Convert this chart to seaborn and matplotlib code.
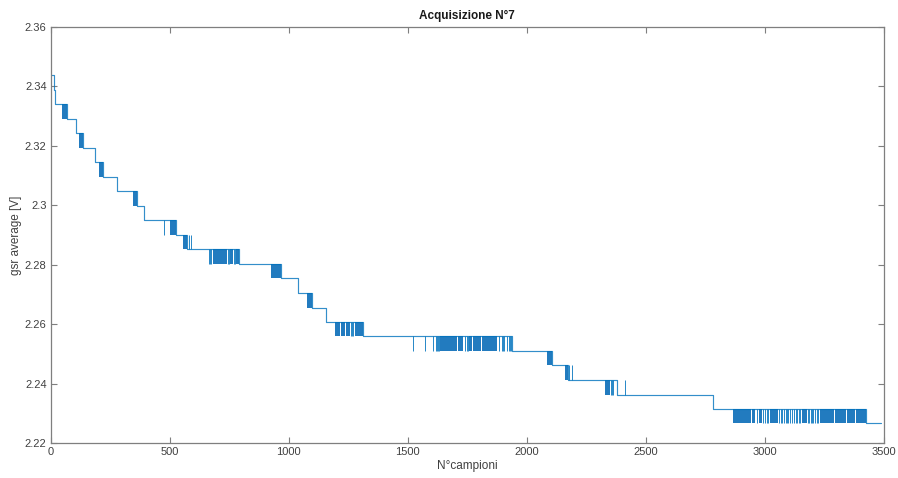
import matplotlib
matplotlib.use('Agg')
import matplotlib.pyplot as plt
import seaborn as sns

# step levels of the quantised gsr signal (sample where each level starts)
step_x = [0, 15, 20, 67, 105, 137, 186, 218, 277, 364, 393, 526, 571, 792,
          966, 1040, 1097, 1155, 1311, 1937, 2105, 2172, 2381, 2784, 3428]
step_v = [2.3438, 2.3389, 2.3340, 2.3291, 2.3242, 2.3193, 2.3145, 2.3096,
          2.3047, 2.2998, 2.2949, 2.2900, 2.2852, 2.2803, 2.2754, 2.2705,
          2.2656, 2.2607, 2.2559, 2.2510, 2.2461, 2.2412, 2.2363, 2.2314,
          2.2266]
last_sample = 3490

# dense flicker blocks between two adjacent levels
band_start = [46, 119, 204, 347, 501, 554, 683, 753, 778, 924, 1076,
              1195, 1220, 1239, 1279, 1636, 1684, 1710, 1759, 1773, 1814,
              1843, 2084, 2161, 2329, 2868, 2948, 2977, 3022, 3155, 3232,
              3294, 3344, 3384]
band_end = [67, 137, 218, 364, 526, 571, 739, 767, 792, 966, 1097,
            1216, 1237, 1258, 1311, 1680, 1706, 1734, 1769, 1810, 1840,
            1874, 2105, 2172, 2352, 2941, 2959, 2987, 3057, 3176, 3290,
            3340, 3380, 3428]
band_lo = [2.3291, 2.3193, 2.3096, 2.2998, 2.2900, 2.2852, 2.2803, 2.2803,
           2.2803, 2.2754, 2.2656, 2.2559, 2.2559, 2.2559, 2.2559, 2.2510,
           2.2510, 2.2510, 2.2510, 2.2510, 2.2510, 2.2510, 2.2461, 2.2412,
           2.2363, 2.2266, 2.2266, 2.2266, 2.2266, 2.2266, 2.2266, 2.2266,
           2.2266, 2.2266]
band_hi = [2.3340, 2.3242, 2.3145, 2.3047, 2.2949, 2.2900, 2.2852, 2.2852,
           2.2852, 2.2803, 2.2705, 2.2607, 2.2607, 2.2607, 2.2607, 2.2559,
           2.2559, 2.2559, 2.2559, 2.2559, 2.2559, 2.2559, 2.2510, 2.2461,
           2.2412, 2.2314, 2.2314, 2.2314, 2.2314, 2.2314, 2.2314, 2.2314,
           2.2314, 2.2314]

# isolated single-sample jumps
spike_x = [476, 582, 588, 666, 670, 675, 744, 748, 771, 775,
           1262, 1266, 1272, 1521, 1573, 1608, 1619, 1624, 1628, 1633,
           1740, 1748, 1755, 1884, 1896, 1900, 1905, 1916, 1924, 1930, 1934,
           2179, 2189, 2356, 2360, 2364, 2413,
           2966, 2994, 3000, 3008, 3014, 3062, 3068, 3075, 3082, 3088, 3092,
           3100, 3108, 3115, 3122, 3130, 3138, 3146, 3150, 3182, 3188, 3194,
           3200, 3204, 3212, 3220, 3226]
spike_lo = ([2.2900] + [2.2852] * 2 + [2.2803] * 7 + [2.2559] * 3 +
            [2.2510] * 18 + [2.2412] * 2 + [2.2363] * 4 + [2.2266] * 27)
spike_hi = ([2.2949] + [2.2900] * 2 + [2.2852] * 7 + [2.2607] * 3 +
            [2.2559] * 18 + [2.2461] * 2 + [2.2412] * 4 + [2.2314] * 27)

x_ticks = [0, 500, 1000, 1500, 2000, 2500, 3000, 3500]
y_ticks = [2.22, 2.24, 2.26, 2.28, 2.3, 2.32, 2.34, 2.36]
y_labels = ['2.22', '2.24', '2.26', '2.28', '2.3', '2.32', '2.34', '2.36']

sns.set_style('white')
plt.rcParams['font.family'] = ['Liberation Sans', 'DejaVu Sans']

line_col = '#0072BD'
band_col = '#0a6db8'

fig, ax = plt.subplots(figsize=(8.98, 4.78), dpi=100)
fig.subplots_adjust(left=0.0565, right=0.984, top=0.9435, bottom=0.0732)

for s, e, lo, hi in zip(band_start, band_end, band_lo, band_hi):
    ax.fill_between([s, e], [lo, lo], [hi, hi], color=band_col, lw=0, alpha=0.9)

ax.vlines(spike_x, spike_lo, spike_hi, color=line_col, lw=0.7, alpha=0.85)

xs = step_x + [last_sample]
ys = step_v + [step_v[-1]]
sns.lineplot(x=xs, y=ys, drawstyle='steps-post', color=line_col, lw=0.85,
             alpha=0.8, ax=ax)

ax.set_xlim(0, 3500)
ax.set_ylim(2.22, 2.36)
ax.set_xticks(x_ticks)
ax.set_yticks(y_ticks)
ax.set_yticklabels(y_labels)

ax.tick_params(direction='in', length=4, width=0.8, color='#7f7f7f',
               labelcolor='#404040', labelsize=8, top=True, right=True,
               bottom=True, left=True, pad=3)
for sp in ax.spines.values():
    sp.set_color('#7f7f7f')
    sp.set_linewidth(0.9)

ax.set_title('Acquisizione N°7', fontsize=8.5, fontweight='bold',
             color='#1a1a1a', pad=6)
ax.set_xlabel('N°campioni', fontsize=8.5, color='#404040', labelpad=2)
ax.set_ylabel('gsr average [V]', fontsize=8.5, color='#404040', labelpad=2)

fig.savefig('out.png', dpi=100, facecolor='white')
